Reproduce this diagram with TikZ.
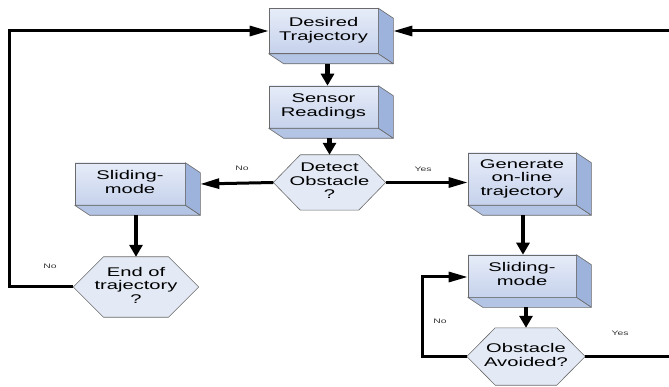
\documentclass[tikz,border=0pt]{standalone}
\usepackage{fontspec}
\usepackage{graphicx}
\setmainfont{Liberation Sans}
\usetikzlibrary{calc,arrows.meta}
\definecolor{frontA}{HTML}{E6ECF8}
\definecolor{frontB}{HTML}{C6D2EC}
\definecolor{sidec}{HTML}{9DB3DC}
\definecolor{botc}{HTML}{B4C4E5}
\definecolor{edgec}{HTML}{6A6A6A}
\definecolor{hexc}{HTML}{E3EAF5}
\newcommand{\wide}[1]{\scalebox{1.6}[1]{\begin{tabular}{@{}c@{}}#1\end{tabular}}}
\newcommand{\extrude}[1]{%
  \filldraw[fill=sidec,draw=edgec,line width=0.6pt,line join=round]
    (#1.north east) -- ++(15,10) -- ($(#1.south east)+(15,10)$) -- (#1.south east) -- cycle;
  \filldraw[fill=botc,draw=edgec,line width=0.6pt,line join=round]
    (#1.south west) -- ++(15,10) -- ($(#1.south east)+(15,10)$) -- (#1.south east) -- cycle;}
\newcommand{\hexdraw}[1]{%
  \filldraw[fill=hexc,draw=edgec,line width=0.6pt,line join=round]
    (#1.west) -- ($(#1.north west)!0.24!(#1.north east)$) -- ($(#1.north west)!0.76!(#1.north east)$)
    -- (#1.east) -- ($(#1.south west)!0.76!(#1.south east)$) -- ($(#1.south west)!0.24!(#1.south east)$) -- cycle;}
\tikzset{
  box/.style={draw=edgec, line width=0.6pt, top color=frontA, bottom color=frontB,
    minimum width=109pt, minimum height=43pt, align=center, inner sep=0pt,
    font=\fontsize{12.6}{13.6}\selectfont},
  hexnode/.style={align=center, inner sep=0pt, font=\fontsize{12.6}{13.6}\selectfont},
  lbl/.style={font=\fontsize{6.5}{7}\selectfont, text=black!80},
  flow/.style={line width=3pt, line join=miter, -{Triangle[length=19pt,width=10pt]}},
  vflow/.style={line width=4.2pt, -{Triangle[length=12pt,width=13pt]}},
}
\begin{document}
\begin{tikzpicture}[x=1pt,y=-1pt]
\useasboundingbox (0,0) rectangle (669,387);
% boxes
\node[box, minimum height=45pt] (dt) at (323.5,31) {\wide{Desired\\Trajectory}};
\extrude{dt}
\node[box, minimum height=42pt] (sr) at (323.5,107) {\wide{Sensor\\Readings}};
\extrude{sr}
\node[box, minimum width=110pt, minimum height=42pt] (sml) at (130,184) {\wide{Sliding-\\mode}};
\extrude{sml}
\node[box, minimum width=108pt, minimum height=52pt] (gen) at (522,179) {\wide{Generate\\on-line\\trajectory}};
\extrude{gen}
\node[box, minimum width=108pt, minimum height=42pt] (smr) at (522,276) {\wide{Sliding-\\mode}};
\extrude{smr}
% hexagons
\path (329.5,182.5) node[hexnode, minimum width=112pt, minimum height=55pt] (det) {};
\hexdraw{det}
\node[hexnode] (dett) at (det.center) {\wide{Detect\\Obstacle\\?}};
\path (136,287) node[hexnode, minimum width=125pt, minimum height=60pt] (eot) {};
\hexdraw{eot}
\node[hexnode] (eott) at (eot.center) {\wide{End of\\trajectory\\?}};
\path (526,356.5) node[hexnode, minimum width=118pt, minimum height=57pt] (oa) {};
\hexdraw{oa}
\node[hexnode] (oat) at (oa.center) {\wide{Obstacle\\Avoided?}};
% helper coordinates
\coordinate (lft) at (9,31);
\coordinate (rl) at (422,277);
\coordinate (rr) at (675,31);
% connectors
\draw[vflow] ($(dt.south)+(4,10)$) -- ($(sr.north)+(4,0)$);
\draw[vflow] ($(sr.south)+(6,10)$) -- (det.north);
\draw[flow] (det.west) -- ($(sml.east)+(15,0)$);
\draw[vflow] ($(sml.south -| eot.north)+(0,10)$) -- (eot.north);
\draw[flow] (eot.west) -| (lft) -- (dt.west);
\draw[flow] (det.east) -- (det.east -| gen.west);
\draw[vflow] ($(gen.south)+(1,10)$) -- ($(smr.north)+(1,0)$);
\draw[vflow] ($(smr.south -| oa.north)+(0,10)$) -- (oa.north);
\draw[flow] (oa.west) -| (rl) -- (rl -| smr.west);
\draw[flow] (oa.east) -| (rr) -- ($(dt.east)+(15,0)$);
% labels
\node[lbl] (n1) at (242,169) {\wide{No}};
\node[lbl] (y1) at (423,170) {\wide{Yes}};
\node[lbl] (n2) at (50,267) {\wide{No}};
\node[lbl] (n3) at (440,322) {\wide{No}};
\node[lbl] (y2) at (620,334) {\wide{Yes}};
\end{tikzpicture}
\end{document}
